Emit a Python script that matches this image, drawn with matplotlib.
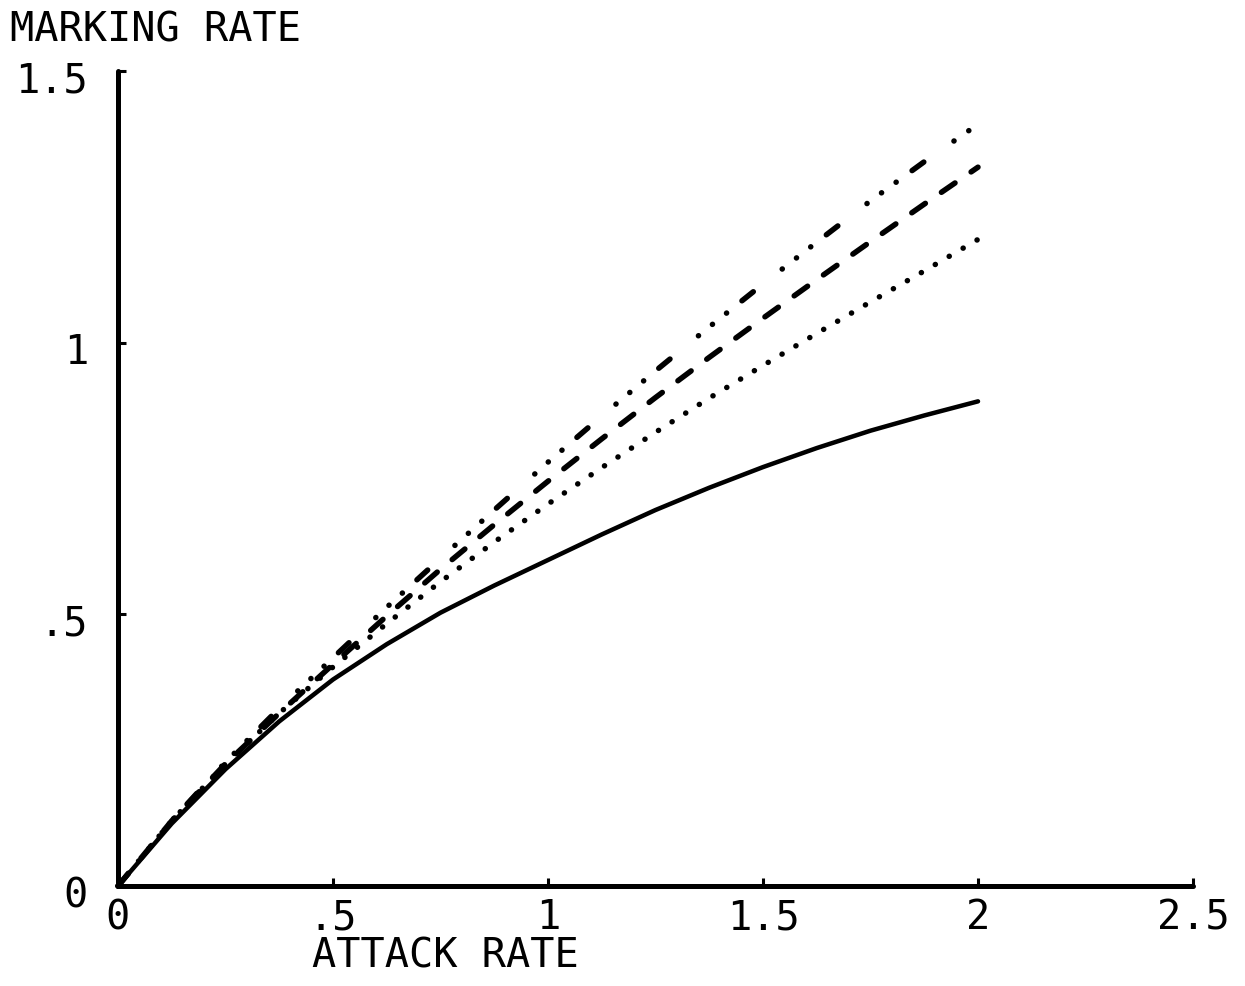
import matplotlib
matplotlib.use("Agg")
import matplotlib.pyplot as plt
from matplotlib.transforms import ScaledTranslation

plt.rcParams['lines.scale_dashes'] = False

# ---- data ----
attack_rate = [0, 0.125, 0.25, 0.375, 0.5, 0.625, 0.75, 0.875, 1.0,
               1.125, 1.25, 1.375, 1.5, 1.625, 1.75, 1.875, 2.0]
marking_solid = [0, 0.115, 0.215, 0.303, 0.38, 0.445, 0.503, 0.553, 0.60,
                 0.647, 0.692, 0.733, 0.771, 0.806, 0.838, 0.866, 0.892]
marking_dotted = [0, 0.12, 0.225, 0.318, 0.403, 0.483, 0.56, 0.633, 0.703,
                  0.77, 0.835, 0.898, 0.958, 1.017, 1.075, 1.132, 1.19]
marking_dashed = [0, 0.12, 0.225, 0.318, 0.408, 0.497, 0.583, 0.665, 0.745,
                  0.823, 0.899, 0.973, 1.045, 1.116, 1.186, 1.255, 1.323]
marking_dashdot = [0, 0.12, 0.228, 0.327, 0.42, 0.513, 0.603, 0.692, 0.78,
                   0.865, 0.948, 1.029, 1.108, 1.185, 1.261, 1.333, 1.402]

x_ticks = [0, 0.5, 1, 1.5, 2, 2.5]
x_tick_labels = ['0', '.5', '1', '1.5', '2', '2.5']
y_ticks = [0, 0.5, 1, 1.5]
y_tick_labels = ['0', '.5', '1', '1.5']
x_title = 'ATTACK RATE'
y_title = 'MARKING RATE'

# ---- figure ----
W, H, DPI = 1245, 986, 100
fig = plt.figure(figsize=(W / DPI, H / DPI), dpi=DPI)
ax_left, ax_right, ax_bottom, ax_top = 118, 1193, 886, 71
ax = fig.add_axes([ax_left / W, (H - ax_bottom) / H,
                   (ax_right - ax_left) / W, (ax_bottom - ax_top) / H])
ax.set_xlim(0, 2.5)
ax.set_ylim(0, 1.5)
ax.patch.set_alpha(0)

px = 0.72  # points per pixel at 100 dpi
lw_solid = 4.5 * px
lw_broken = 5.5 * px

ax.plot(attack_rate, marking_solid, color='black', lw=lw_solid,
        solid_capstyle='round', solid_joinstyle='round', clip_on=False)
ax.plot(attack_rate, marking_dotted, color='black', lw=lw_broken,
        dashes=(0.1, 16 * px), dash_capstyle='round', clip_on=False)
ax.plot(attack_rate, marking_dashed, color='black', lw=lw_broken,
        dashes=(16.5 * px, 19.5 * px), dash_capstyle='round', clip_on=False)
ax.plot(attack_rate, marking_dashdot, color='black', lw=lw_broken,
        dashes=(14.5 * px, 36.75 * px, 0.1, 17.9 * px, 0.1, 17.9 * px,
                0.1, 19.65 * px),
        dash_capstyle='round', clip_on=False)

for s in ['top', 'right']:
    ax.spines[s].set_visible(False)
for s in ['left', 'bottom']:
    ax.spines[s].set_linewidth(5 * px)
    ax.spines[s].set_capstyle('round')

ax.set_xticks(x_ticks)
ax.set_yticks(y_ticks)
ax.tick_params(direction='in', length=6, width=2.2, labelleft=False,
               labelbottom=False)

font = dict(family=['DejaVu Sans Mono', 'DejaVu Sans'], fontsize=29,
            color='black')

def off(dx, dy):
    return ax.transData + ScaledTranslation(dx / DPI, dy / DPI,
                                            fig.dpi_scale_trans)

for v, s in zip(x_ticks, x_tick_labels):
    ax.text(v, 0, s, transform=off(0, -32), ha='center', va='center', **font)
for v, s in zip(y_ticks, y_tick_labels):
    ax.text(0, v, s, transform=off(-30, -10), ha='right', va='center', **font)

fig.text(10 / W, 1 - 30 / H, y_title, ha='left', va='center', **font)
fig.text(445 / W, 1 - 957 / H, x_title, ha='center', va='center', **font)

fig.savefig('out.png', dpi=DPI, facecolor='white')
